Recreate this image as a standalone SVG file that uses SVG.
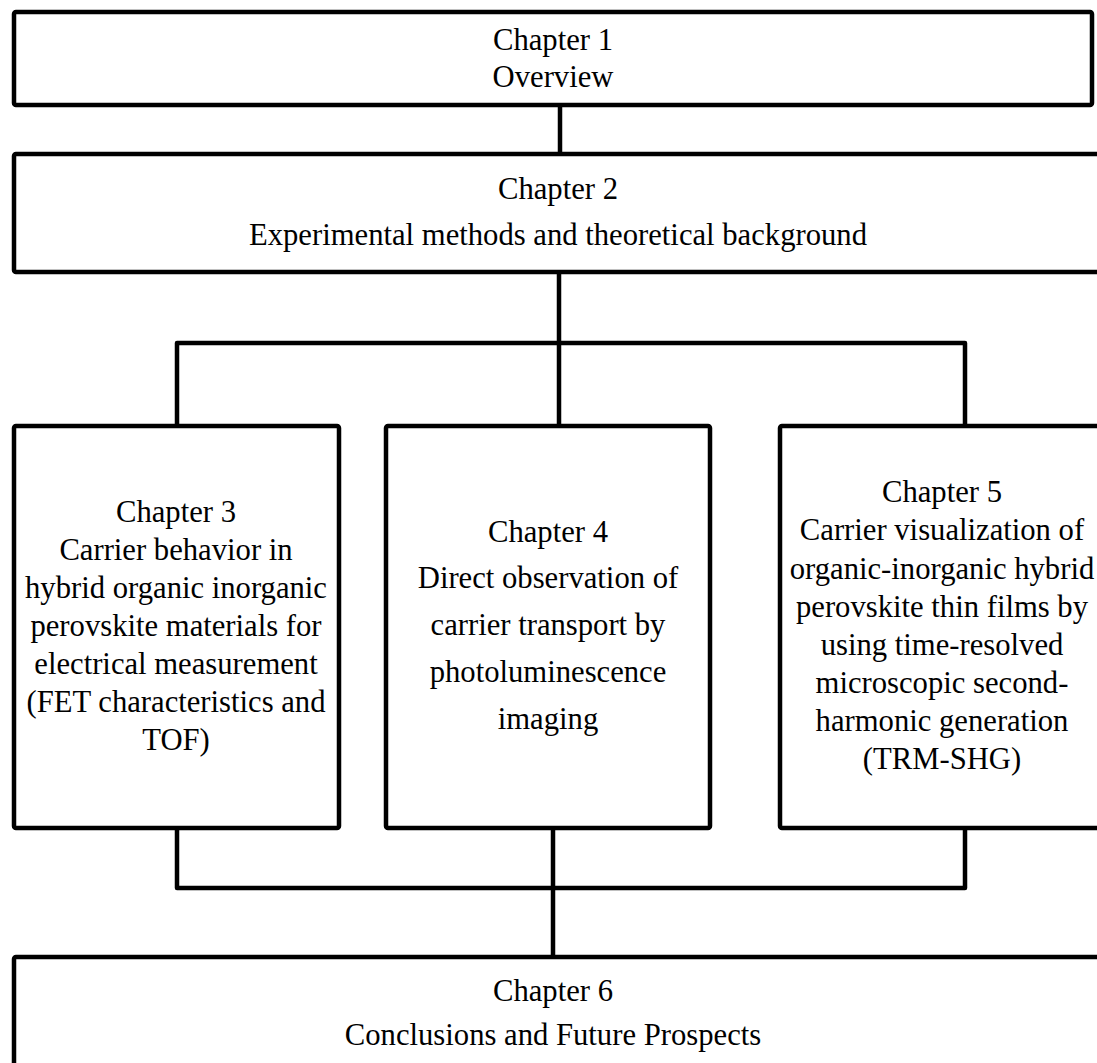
<svg xmlns="http://www.w3.org/2000/svg" width="1097" height="1063" viewBox="0 0 1097 1063">
<style>
.box{fill:#fff;stroke:#000;stroke-width:4.5;stroke-linejoin:round}
.con{fill:none;stroke:#000;stroke-width:4.5;stroke-linejoin:round}
.t{font-size:30.67px;fill:#000;text-anchor:middle}
</style>
<rect width="1097" height="1063" fill="#fff"/>
<g id="connectors">
<path class="con" d="M560 105V154"/>
<path class="con" d="M559 272V426"/>
<path class="con" d="M177 426V343H965V426"/>
<path class="con" d="M177 828V888H965V828"/>
<path class="con" d="M553 828V957"/>
</g>
<g font-family="Liberation Serif, Times New Roman, serif">
<g id="ch1">
<rect class="box" x="14" y="12" width="1078" height="93" rx="2"/>
<text class="t" x="553" y="50">Chapter 1</text>
<text class="t" x="553" y="87">Overview</text>
</g>
<g id="ch2">
<rect class="box" x="14" y="154" width="1092" height="118" rx="2"/>
<text class="t" x="558" y="199">Chapter 2</text>
<text class="t" x="558" y="245">Experimental methods and theoretical background</text>
</g>
<g id="ch3">
<rect class="box" x="14" y="426" width="325" height="402" rx="2"/>
<text class="t" x="176" y="522">Chapter 3</text>
<text class="t" x="176" y="560">Carrier behavior in</text>
<text class="t" x="176" y="598">hybrid organic inorganic</text>
<text class="t" x="176" y="636">perovskite materials for</text>
<text class="t" x="176" y="674">electrical measurement</text>
<text class="t" x="176" y="712">(FET characteristics and</text>
<text class="t" x="176" y="750">TOF)</text>
</g>
<g id="ch4">
<rect class="box" x="386" y="426" width="324" height="402" rx="2"/>
<text class="t" x="548" y="542">Chapter 4</text>
<text class="t" x="548" y="588">Direct observation of</text>
<text class="t" x="548" y="635">carrier transport by</text>
<text class="t" x="548" y="682">photoluminescence</text>
<text class="t" x="548" y="729">imaging</text>
</g>
<g id="ch5">
<rect class="box" x="780" y="426" width="325" height="402" rx="2"/>
<text class="t" x="942" y="502">Chapter 5</text>
<text class="t" x="942" y="540">Carrier visualization of</text>
<text class="t" x="942" y="579">organic-inorganic hybrid</text>
<text class="t" x="942" y="617">perovskite thin films by</text>
<text class="t" x="942" y="655">using time-resolved</text>
<text class="t" x="942" y="693">microscopic second-</text>
<text class="t" x="942" y="731">harmonic generation</text>
<text class="t" x="942" y="769">(TRM-SHG)</text>
</g>
<g id="ch6">
<rect class="box" x="14" y="957" width="1092" height="120" rx="2"/>
<text class="t" x="553" y="1001">Chapter 6</text>
<text class="t" x="553" y="1045">Conclusions and Future Prospects</text>
</g>
</g>
</svg>
